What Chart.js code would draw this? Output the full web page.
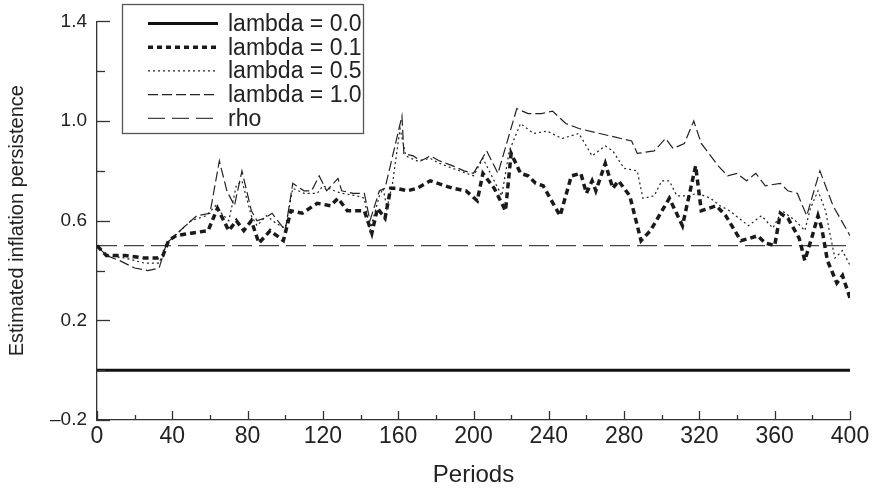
<!DOCTYPE html>
<html>
<head>
<meta charset="utf-8">
<script src="https://cdn.jsdelivr.net/npm/chart.js@4/dist/chart.umd.min.js"></script>
<style>
  body { margin: 0; background: #fff; }
  #wrap { width: 873px; height: 490px; }
</style>
</head>
<body>
<div id="wrap"><canvas id="chart" width="873" height="490"></canvas></div>
<script>
// values
const periodsFlat = [0, 400];
const lambda00 = [0.0, 0.0];
const rho = [0.5, 0.5];

const periods01 = [0, 5, 15, 25, 32, 35, 38, 42, 50, 59, 64, 70, 74, 78, 82, 86, 92, 99, 103, 109,
  117, 124, 128, 133, 142, 146, 149, 153, 156, 159, 165, 170, 177, 189, 196, 202, 205, 211, 217, 220,
  225, 229, 233, 237, 246, 252, 257, 260, 263, 265, 270, 274, 277, 283, 289, 294, 304, 311, 318, 321,
  329, 334, 342, 347, 351, 355, 360, 363, 367, 373, 376, 380, 383, 385, 388, 393, 396, 400];
const lambda01 = [0.50, 0.46, 0.46, 0.45, 0.45, 0.46, 0.52, 0.54, 0.55, 0.56, 0.65, 0.56, 0.60, 0.56, 0.60, 0.51, 0.56, 0.52, 0.64, 0.63,
  0.67, 0.66, 0.69, 0.64, 0.64, 0.55, 0.65, 0.61, 0.73, 0.73, 0.72, 0.73, 0.76, 0.73, 0.72, 0.68, 0.79, 0.73, 0.64, 0.87,
  0.79, 0.78, 0.75, 0.74, 0.62, 0.78, 0.79, 0.71, 0.76, 0.72, 0.83, 0.73, 0.76, 0.70, 0.52, 0.56, 0.69, 0.58, 0.82, 0.64,
  0.66, 0.62, 0.52, 0.53, 0.54, 0.51, 0.50, 0.63, 0.61, 0.53, 0.44, 0.54, 0.62, 0.57, 0.44, 0.35, 0.38, 0.29];

const periods05 = [0, 5, 15, 25, 33, 37, 40, 50, 58, 63, 66, 70, 74, 77, 82, 85, 90, 95, 100, 104,
  110, 117, 120, 126, 130, 138, 142, 145, 150, 152, 154, 157, 161, 164, 170, 177, 182, 189, 200, 205,
  211, 215, 219, 225, 232, 239, 247, 256, 263, 270, 274, 280, 287, 290, 296, 300, 304, 308, 314, 319,
  326, 331, 336, 346, 353, 359, 364, 371, 376, 379, 383, 387, 389, 392, 396, 400];
const lambda05 = [0.50, 0.46, 0.45, 0.43, 0.43, 0.51, 0.53, 0.60, 0.62, 0.66, 0.63, 0.60, 0.74, 0.76, 0.62, 0.58, 0.62, 0.59, 0.57, 0.73,
  0.71, 0.71, 0.74, 0.72, 0.71, 0.70, 0.69, 0.56, 0.70, 0.73, 0.65, 0.75, 0.97, 0.86, 0.84, 0.85, 0.83, 0.81, 0.78, 0.85,
  0.76, 0.70, 0.88, 0.99, 0.95, 0.96, 0.93, 0.95, 0.86, 0.90, 0.88, 0.81, 0.80, 0.69, 0.70, 0.76, 0.76, 0.70, 0.70, 0.71,
  0.69, 0.66, 0.64, 0.58, 0.62, 0.57, 0.64, 0.60, 0.56, 0.65, 0.72, 0.64, 0.56, 0.45, 0.48, 0.42];

const periods10 = [0, 5, 12, 20, 27, 33, 37, 40, 47, 53, 60, 65, 69, 73, 77, 82, 85, 89, 93, 97,
  100, 104, 110, 114, 118, 122, 128, 130, 136, 142, 145, 150, 153, 162, 163, 168, 172, 177, 182, 189,
  195, 200, 207, 213, 223, 229, 236, 242, 249, 256, 267, 284, 287, 296, 302, 306, 312, 317, 321, 326,
  330, 335, 340, 345, 350, 355, 363, 367, 372, 377, 384, 391, 400];
const lambda10 = [0.50, 0.46, 0.44, 0.41, 0.40, 0.41, 0.51, 0.53, 0.58, 0.62, 0.63, 0.84, 0.72, 0.66, 0.80, 0.64, 0.60, 0.61, 0.63, 0.59,
  0.56, 0.75, 0.72, 0.72, 0.78, 0.72, 0.77, 0.72, 0.71, 0.71, 0.60, 0.72, 0.73, 1.02, 0.87, 0.86, 0.84, 0.86, 0.84, 0.82,
  0.80, 0.79, 0.88, 0.79, 1.05, 1.03, 1.03, 1.04, 0.99, 0.97, 0.95, 0.92, 0.87, 0.88, 0.93, 0.89, 0.91, 1.00, 0.91, 0.86,
  0.82, 0.78, 0.79, 0.76, 0.79, 0.74, 0.75, 0.72, 0.71, 0.62, 0.80, 0.66, 0.54];

const yTicksLabelled = [-0.2, 0.2, 0.6, 1.0, 1.4];

function pts(xs, ys) {
    return xs.map((x, i) => ({ x: x, y: ys[i] }));
}

const FONT = "'Liberation Sans', Arial, sans-serif";
const NARROW = "'Liberation Sans Narrow', 'Arial Narrow', 'Liberation Sans', sans-serif";
Chart.defaults.font.family = FONT;
Chart.defaults.color = '#222';

// inward tick marks, major ones where a label is shown
const innerTicks = {
    id: 'innerTicks',
    afterDraw(chart) {
        const ctx = chart.ctx;
        const xs = chart.scales.x, ys = chart.scales.y;
        const area = chart.chartArea;
        ctx.save();
        ctx.strokeStyle = '#333';
        ctx.lineWidth = 1.3;
        ys.ticks.forEach(t => {
            const py = Math.round(ys.getPixelForValue(t.value)) + 0.5;
            const len = t.label !== '' ? 13 : 8;
            ctx.beginPath();
            ctx.moveTo(area.left, py);
            ctx.lineTo(area.left + len, py);
            ctx.stroke();
        });
        xs.ticks.forEach(t => {
            const px = Math.round(xs.getPixelForValue(t.value)) + 0.5;
            const len = t.label !== '' ? 9 : 5;
            ctx.beginPath();
            ctx.moveTo(px, area.bottom);
            ctx.lineTo(px, area.bottom - len);
            ctx.stroke();
        });
        ctx.restore();
    }
};

// boxed legend inside the plot, upper left
const boxLegend = {
    id: 'boxLegend',
    afterDraw(chart) {
        const ctx = chart.ctx;
        const bx = 122, by = 4, bw = 241, bh = 129;
        ctx.save();
        ctx.fillStyle = '#fff';
        ctx.fillRect(bx, by, bw, bh);
        ctx.strokeStyle = '#555';
        ctx.lineWidth = 1.3;
        ctx.strokeRect(bx + 0.5, by + 0.5, bw, bh);
        ctx.font = '23px ' + FONT;
        ctx.textBaseline = 'middle';
        ctx.fillStyle = '#222';
        chart.data.datasets.forEach((ds, i) => {
            const y = 23.5 + i * 23.7;
            ctx.strokeStyle = ds.borderColor;
            ctx.lineWidth = ds.borderWidth;
            ctx.setLineDash(ds.legendDash || ds.borderDash || []);
            ctx.beginPath();
            ctx.moveTo(148, y);
            ctx.lineTo(218, y);
            ctx.stroke();
            ctx.setLineDash([]);
            ctx.fillText(ds.label, 228, y + 1);
        });
        ctx.restore();
    }
};

new Chart(document.getElementById('chart'), {
    type: 'line',
    data: {
        datasets: [
            { label: 'lambda = 0.0', data: pts(periodsFlat, lambda00), borderColor: '#111', borderWidth: 3, borderDash: [] },
            { label: 'lambda = 0.1', data: pts(periods01, lambda01), borderColor: '#1a1a1a', borderWidth: 3.5, borderDash: [6, 4], legendDash: [5, 4] },
            { label: 'lambda = 0.5', data: pts(periods05, lambda05), borderColor: '#222', borderWidth: 1.2, borderDash: [2, 3] },
            { label: 'lambda = 1.0', data: pts(periods10, lambda10), borderColor: '#222', borderWidth: 1.2, borderDash: [10, 4] },
            { label: 'rho', data: pts(periodsFlat, rho), borderColor: '#444', borderWidth: 1.3, borderDash: [20, 7], legendDash: [17, 7] }
        ]
    },
    options: {
        responsive: false,
        animation: false,
        layout: { padding: { left: 0, right: 23, top: 18, bottom: 0 } },
        elements: { point: { radius: 0 }, line: { tension: 0, fill: false } },
        plugins: { legend: { display: false }, tooltip: { enabled: false } },
        scales: {
            x: {
                type: 'linear',
                min: 0, max: 400,
                grid: { display: false, drawTicks: false },
                border: { display: true, color: '#333', width: 1.3 },
                ticks: {
                    stepSize: 20, autoSkip: false, maxRotation: 0, padding: 3,
                    font: { size: 23, family: NARROW },
                    callback: v => (v % 40 === 0 ? String(v) : '')
                },
                title: { display: true, text: 'Periods', font: { size: 24, family: NARROW }, padding: { top: 4, bottom: 0 } },
                afterFit: s => { s.height = 70; }
            },
            y: {
                min: -0.2, max: 1.4,
                grid: { display: false, drawTicks: false },
                border: { display: true, color: '#333', width: 1.3 },
                ticks: {
                    stepSize: 0.2, autoSkip: false, padding: 10,
                    font: { size: 19 },
                    callback: v => {
                        const hit = yTicksLabelled.some(t => Math.abs(t - v) < 1e-6);
                        if (!hit) return '';
                        return v < 0 ? '\u2013' + Math.abs(v).toFixed(1) : v.toFixed(1);
                    }
                },
                title: { display: true, text: 'Estimated inflation persistence', font: { size: 20 }, padding: { top: 5, bottom: 0 } },
                afterFit: s => { s.width = 97; }
            }
        }
    },
    plugins: [innerTicks, boxLegend]
});
</script>
</body>
</html>
